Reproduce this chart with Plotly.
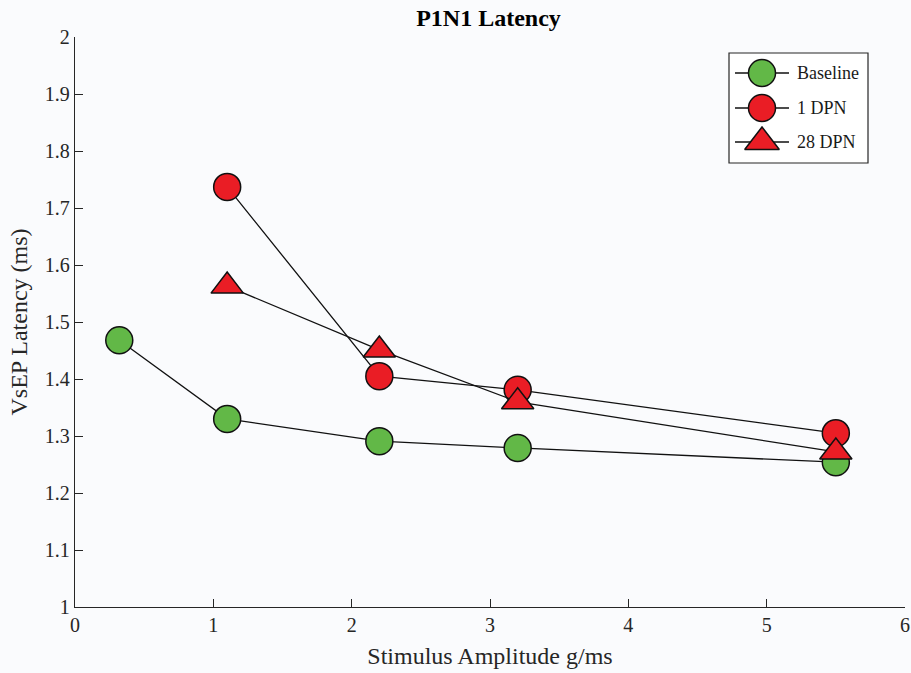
import plotly.graph_objects as go

# ---- data ----
x_baseline = [0.32, 1.1, 2.2, 3.2, 5.5]
y_baseline = [1.468, 1.330, 1.291, 1.279, 1.254]
x_dpn1 = [1.1, 2.2, 3.2, 5.5]
y_dpn1 = [1.737, 1.405, 1.381, 1.305]
x_dpn28 = [1.1, 2.2, 3.2, 5.5]
y_dpn28 = [1.563, 1.451, 1.360, 1.272]
series_names = ["Baseline", "1 DPN", "28 DPN"]
x_ticks = [0, 1, 2, 3, 4, 5, 6]
y_ticks = [1, 1.1, 1.2, 1.3, 1.4, 1.5, 1.6, 1.7, 1.8, 1.9, 2]
y_ticklabels = ["1", "1.1", "1.2", "1.3", "1.4", "1.5", "1.6", "1.7", "1.8", "1.9", "2"]

GREEN = "#62b847"
RED = "#ea1d25"
FONT = "Liberation Serif"
AX = "#262626"
BG = "#fafbfd"

W, H = 911, 673
L, R, T, B = 75, 6, 37, 66
PW, PH = W - L - R, H - T - B

styles = [
    dict(color=GREEN, symbol="circle", size=27),
    dict(color=RED, symbol="circle", size=27),
    dict(color=RED, symbol="triangle-up", size=28),
]

fig = go.Figure()
for (xs, ys), name, st in zip(
    [(x_baseline, y_baseline), (x_dpn1, y_dpn1), (x_dpn28, y_dpn28)], series_names, styles
):
    fig.add_trace(go.Scatter(
        x=xs, y=ys, mode="lines+markers", name=name, showlegend=False,
        line=dict(color="#111111", width=1.3),
        marker=dict(color=st["color"], symbol=st["symbol"], size=st["size"], opacity=1,
                    line=dict(color="#111111", width=1.5)),
        cliponaxis=False,
    ))

# ---- custom legend (positions in pixels, converted to paper fractions) ----
def fx(px):
    return (px - L) / PW

def fy(py):
    return (T + PH - py) / PH

shapes = [dict(type="rect", xref="paper", yref="paper",
               x0=fx(729), x1=fx(868), y0=fy(163), y1=fy(53),
               line=dict(color="#262626", width=1.2), fillcolor="white", layer="below")]
annotations = []
leg_y = [73, 108, 142]
for name, st, py in zip(series_names, styles, leg_y):
    shapes.append(dict(type="line", xref="paper", yref="paper",
                       x0=fx(735), x1=fx(789), y0=fy(py), y1=fy(py),
                       line=dict(color="#111111", width=1.3), layer="below"))
    annotations.append(dict(x=fx(795), y=fy(py), xref="paper", yref="paper",
                            text=name, showarrow=False, xanchor="left", yanchor="middle",
                            font=dict(family=FONT, size=18, color="#1a1a1a")))

fig.add_trace(go.Scatter(
    x=[fx(762)] * 3, y=[fy(v) for v in leg_y], xaxis="x2", yaxis="y2",
    mode="markers", showlegend=False, hoverinfo="skip",
    marker=dict(color=[s["color"] for s in styles], symbol=[s["symbol"] for s in styles],
                size=[27, 27, 30], opacity=1, line=dict(color="#111111", width=1.5)),
    cliponaxis=False,
))

fig.update_layout(
    width=W, height=H,
    margin=dict(l=L, r=R, t=T, b=B),
    paper_bgcolor=BG, plot_bgcolor=BG,
    showlegend=False,
    title=dict(text="<b>P1N1 Latency</b>", x=(488.5) / W, xanchor="center",
               y=1 - 17.5 / H, yanchor="middle",
               font=dict(family=FONT, size=24, color="black")),
    xaxis=dict(range=[0, 6], tickvals=x_ticks, ticks="inside", ticklen=8, tickwidth=1.2,
               tickcolor=AX, showline=True, linecolor=AX, linewidth=1.3,
               showgrid=False, zeroline=False, mirror=False, automargin=False,
               tickfont=dict(family=FONT, size=20, color=AX),
               title=dict(text="Stimulus Amplitude g/ms", standoff=12,
                          font=dict(family=FONT, size=24, color=AX))),
    yaxis=dict(range=[1, 2], tickvals=y_ticks, ticktext=y_ticklabels, ticks="inside",
               ticklen=8, tickwidth=1.2, tickcolor=AX, showline=True, linecolor=AX,
               linewidth=1.3, showgrid=False, zeroline=False, mirror=False, automargin=False,
               tickfont=dict(family=FONT, size=20, color=AX),
               title=dict(text="VsEP Latency (ms)", standoff=10,
                          font=dict(family=FONT, size=24, color=AX))),
    xaxis2=dict(overlaying="x", range=[0, 1], visible=False, fixedrange=True),
    yaxis2=dict(overlaying="y", range=[0, 1], visible=False, fixedrange=True),
    shapes=shapes,
    annotations=annotations,
)

fig.write_html("out.html", config={"displayModeBar": False},
               post_script="document.body.style.margin='0';document.body.style.overflow='hidden';")
